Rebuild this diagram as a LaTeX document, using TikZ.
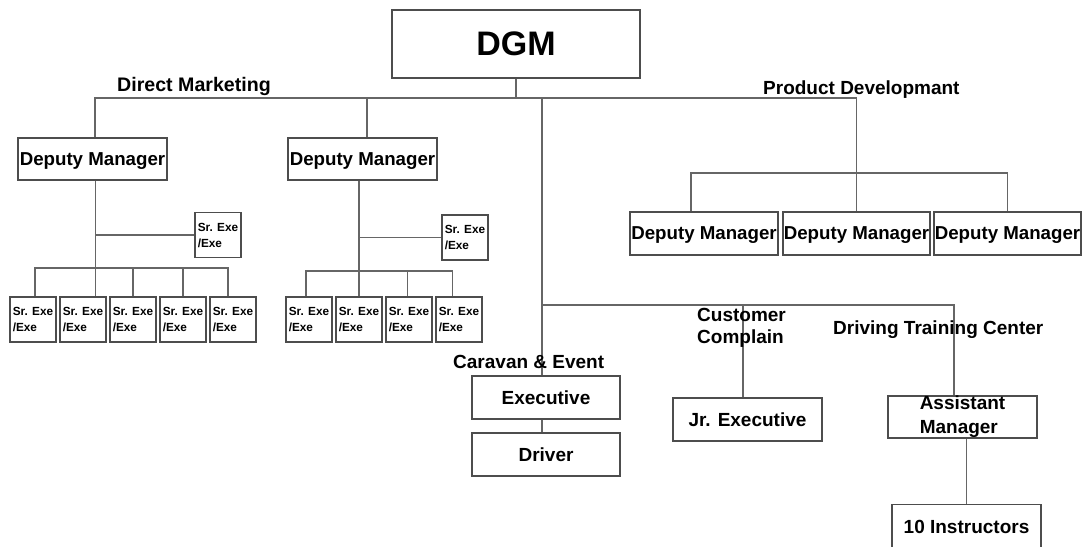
\documentclass[tikz,border=0pt]{standalone}
\usepackage{fontspec}
\setmainfont{Liberation Sans}
\usetikzlibrary{positioning}
\definecolor{linha}{HTML}{666666}
\definecolor{borda}{HTML}{4D4D4D}

\begin{document}
\begin{tikzpicture}[x=1pt, y=-1pt,
  font=\bfseries\fontsize{19}{22}\selectfont,
  unit/.style={draw=borda, line width=1.3pt, inner sep=0pt, minimum width=148pt, minimum height=43pt, fill=white},
  dep/.style={unit, minimum width=149pt, minimum height=42pt, text depth=0pt, font=\bfseries\fontsize{18.7}{22}\selectfont},
  sr/.style={unit, align=left, minimum width=46pt, minimum height=45pt, font=\bfseries\fontsize{11.8}{16}\selectfont},
  lig/.style={draw=linha, line width=1.4pt},
  rotulo/.style={inner sep=0pt, anchor=base west}]
\useasboundingbox (0,0) rectangle (1083,546);
\coordinate (topo) at (0,98);
\coordinate (pdb) at (0,173);
\coordinate (busa) at (0,268);
\coordinate (busb) at (0,271);
\coordinate (baixo) at (0,305);
% ---- topo
\node[unit, minimum width=248pt, minimum height=68pt, font=\bfseries\fontsize{34}{40}\selectfont] (dgm) at (516,44) {DGM};
\node[dep] (dm1) at (92.5,159) {Deputy Manager};
\node[dep] (dm2) at (362.5,159) {Deputy Manager};
% ---- product development
\node[dep, minimum width=148pt, minimum height=43pt] (pd1) at (704,233.5) {Deputy Manager};
\node[dep, minimum width=147pt, minimum height=43pt, right=3.7pt of pd1] (pd2) {Deputy Manager};
\node[dep, minimum width=147pt, minimum height=43pt, right=2.7pt of pd2] (pd3) {Deputy Manager};
% ---- direct marketing, ramo 1
\node[sr] (sa) at (218,235) {Sr. Exe\\/Exe};
\node[sr] (a1) at (33,319.5) {Sr. Exe\\/Exe};
\node[sr, right=2.7pt of a1] (a2) {Sr. Exe\\/Exe};
\node[sr, right=2.7pt of a2] (a3) {Sr. Exe\\/Exe};
\node[sr, right=2.7pt of a3] (a4) {Sr. Exe\\/Exe};
\node[sr, right=2.7pt of a4] (a5) {Sr. Exe\\/Exe};
% ---- direct marketing, ramo 2
\node[sr] (sb) at (465,237.5) {Sr. Exe\\/Exe};
\node[sr] (b1) at (309,319.5) {Sr. Exe\\/Exe};
\node[sr, right=2.7pt of b1] (b2) {Sr. Exe\\/Exe};
\node[sr, right=2.7pt of b2] (b3) {Sr. Exe\\/Exe};
\node[sr, right=2.7pt of b3] (b4) {Sr. Exe\\/Exe};
% ---- parte de baixo
\node[unit] (exe) at (546,397.5) {Executive};
\node[unit, below=12.7pt of exe] (drv) {Driver};
\node[unit, minimum width=149pt] (jr) at (747.5,419.5) {Jr. Executive};
\node[unit, minimum width=149pt, minimum height=42pt, align=left, font=\bfseries\fontsize{19}{24}\selectfont] (am) at (962.5,417) {Assistant\\Manager};
\node[unit, minimum width=149pt, minimum height=45pt] (ins) at (966.5,527) {10 Instructors};
% ---- ligacoes
\draw[lig] (dgm.south) -- (dgm.south |- topo);
\draw[lig] ([xshift=2.5pt]dm1.north) |- (pd2.north |- topo) -- (pd2.north);
\draw[lig] ([xshift=4.5pt]dm2.north) -- ([xshift=4.5pt]dm2.north |- topo);
\draw[lig] ([xshift=-4pt]exe.north) -- ([xshift=-4pt]exe.north |- topo);
\draw[lig] ([xshift=-13pt]pd1.north) |- (pd3.north |- pdb) -- (pd3.north);
\draw[lig] ([xshift=3pt]dm1.south) -- ([xshift=3pt]dm1.south |- a2.north);
\draw[lig] ([xshift=3pt]dm1.south |- sa.west) -- (sa.west);
\draw[lig] ([xshift=2pt]a1.north) |- ([xshift=-5pt]a5.north |- busa) -- ([xshift=-5pt]a5.north);
\draw[lig] (a3.north) -- (a3.north |- busa);
\draw[lig] (a4.north) -- (a4.north |- busa);
\draw[lig] (b2.north |- dm2.south) -- (b2.north);
\draw[lig] (b2.north |- sb.west) -- (sb.west);
\draw[lig] ([xshift=-3pt]b1.north) |- ([xshift=-6.5pt]b4.north |- busb) -- ([xshift=-6.5pt]b4.north);
\draw[lig] ([xshift=-1.5pt]b3.north) -- ([xshift=-1.5pt]b3.north |- busb);
\draw[lig] ([xshift=-4pt]exe.north |- baixo) -| ([xshift=-8.5pt]am.north);
\draw[lig] ([xshift=-4.5pt]jr.north) -- ([xshift=-4.5pt]jr.north |- baixo);
\draw[lig] ([xshift=-4pt]exe.south) -- ([xshift=-4pt]drv.north);
\draw[lig] (ins.north |- am.south) -- (ins.north);
% ---- rotulos
\node[rotulo, font=\bfseries\fontsize{19.6}{22}\selectfont] (dmk) at (117,91) {Direct Marketing};
\node[rotulo] (pdv) at (763,94) {Product Developmant};
\node[rotulo] (cev) at (453,368) {Caravan \& Event};
\node[rotulo, anchor=north west, align=left] (cc) at (697,308) {Customer\\Complain};
\node[rotulo] (dtc) at (833,334) {Driving Training Center};
\end{tikzpicture}
\end{document}
